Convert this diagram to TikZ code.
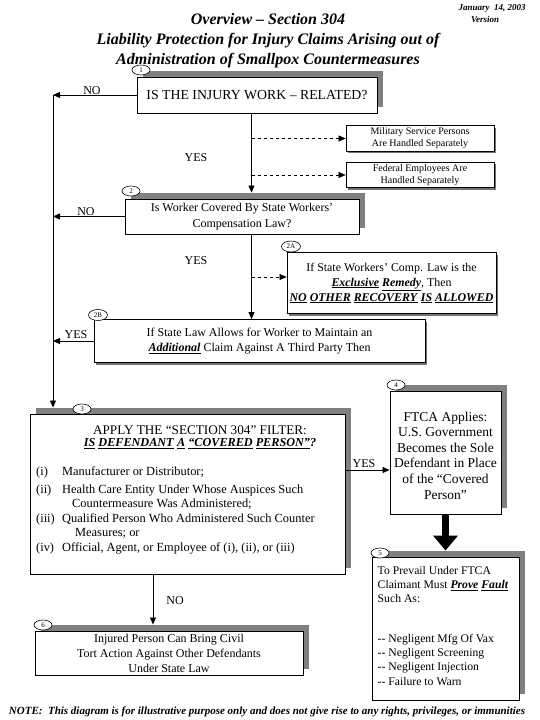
\documentclass[tikz,border=0pt]{standalone}
\usepackage{fontspec}
\setmainfont{Liberation Serif}
\usetikzlibrary{arrows.meta,shadows,shapes.geometric,calc}
\newcommand{\biu}[1]{\underline{\textbf{\textit{#1}}}}
\begin{document}
\begin{tikzpicture}[x=1pt,y=-1pt]
\tikzset{
  bigbox/.style={draw, fill=white, line width=0.9pt, inner sep=0pt,
    general shadow={shadow xshift=6pt, shadow yshift=6pt, fill=black!50}},
  sidebox/.style={draw, fill=white, line width=0.8pt, inner sep=0pt,
    general shadow={shadow xshift=2pt, shadow yshift=-2pt, fill=black!55}},
  badge/.style={ellipse, draw, fill=white, line width=0.6pt, inner sep=0pt,
    minimum width=18pt, minimum height=10pt, font=\fontsize{7}{7}\selectfont},
  arr/.style={-{Triangle[length=7pt,width=6pt]}, line width=0.8pt},
  dasharr/.style={arr, dashed, line width=0.6pt},
  lbl/.style={font=\fontsize{12}{12}\selectfont, inner sep=1pt},
  txt/.style={inner sep=0pt},
}
\useasboundingbox[fill=white] (0,0) rectangle (539,720);

% titles
\node[font=\fontsize{16}{20}\selectfont\bfseries\itshape, align=center] (title) at (268,40.5)
  {Overview – Section 304\\Liability Protection for Injury Claims Arising out of\\Administration of Smallpox Countermeasures};
\node[font=\fontsize{9}{12}\selectfont\bfseries\itshape, align=center] (date) at (492,14)
  {January~ 14, 2003\\Version\hspace*{14pt}};
\node[font=\fontsize{11}{12}\selectfont\bfseries\itshape] (note) at (267,712)
  {NOTE:~ This diagram is for illustrative purpose only and does not give rise to any rights, privileges, or immunities};

% column coordinates
\coordinate (X) at (251.5,0);
\coordinate (L) at (53,0);
\coordinate (X6) at (153,0);
\coordinate (Y34) at (0,470);

% boxes
\node[bigbox, minimum width=240pt, minimum height=36pt, font=\fontsize{13.8}{15}\selectfont] (b1) at (257,95)
  {IS THE INJURY WORK – RELATED?};
\node[sidebox, minimum width=148pt, minimum height=25.5pt, font=\fontsize{10}{12}\selectfont, align=center] (mil) at (420,138.5)
  {Military Service Persons\\Are Handled Separately};
\node[sidebox, minimum width=148pt, minimum height=25.5pt, font=\fontsize{10}{12}\selectfont, align=center] (fed) at (420,175)
  {Federal Employees Are\\Handled Separately};
\node[bigbox, minimum width=234pt, minimum height=35pt, font=\fontsize{12}{16}\selectfont, align=center] (b2) at (242,216.5)
  {Is Worker Covered By State Workers’\\Compensation Law?};
\node[sidebox, minimum width=209pt, minimum height=61pt, font=\fontsize{11.9}{15}\selectfont, align=center] (b2a) at (391.5,283)
  {If State Workers’ Comp. Law is the\\\biu{Exclusive} \biu{Remedy}, Then\\\biu{NO} \biu{OTHER} \biu{RECOVERY} \biu{IS} \biu{ALLOWED}};
\node[sidebox, minimum width=331pt, minimum height=43pt, font=\fontsize{12}{15}\selectfont, align=center] (b2b) at (259.5,341)
  {If State Law Allows for Worker to Maintain an\\\biu{Additional} Claim Against A Third Party Then};
\node[bigbox, minimum width=315pt, minimum height=160pt] (b3) at (187.5,494) {};
\node[txt, align=center] (b3t) at (200,437.5)
  {\fontsize{13.2}{15}\selectfont APPLY THE “SECTION 304” FILTER:\\\fontsize{12.2}{15}\selectfont\biu{IS} \biu{DEFENDANT} \biu{A} \biu{“COVERED} \biu{PERSON”}\textbf{\textit{?}}};
\node[anchor=north west, inner sep=0pt, font=\fontsize{12.4}{14.6}\selectfont] (b3l) at (36,465)
  {\begin{tabular}{@{}p{26pt}@{}l@{}}
  (i) & Manufacturer or Distributor;\\[3pt]
  (ii) & Health Care Entity Under Whose Auspices Such\\
       & \hspace{10pt}Countermeasure Was Administered;\\
  (iii) & Qualified Person Who Administered Such Counter\\
        & \hspace{13pt}Measures; or\\
  (iv) & Official, Agent, or Employee of (i), (ii), or (iii)
  \end{tabular}};
\node[bigbox, minimum width=111pt, minimum height=123pt] (b4) at (445.5,452.5) {};
\node[txt, font=\fontsize{13.5}{15.6}\selectfont, align=center] (b4t) at (445.5,455.5)
  {FTCA Applies:\\U.S. Government\\Becomes the Sole\\Defendant in Place\\of the “Covered\\Person”};
\node[bigbox, minimum width=147pt, minimum height=143pt] (b5) at (445.5,628.5) {};
\node[txt, anchor=north west, font=\fontsize{11.7}{14.3}\selectfont, align=left] (b5t) at (377.5,566)
  {To Prevail Under FTCA\\Claimant Must \biu{Prove} \biu{Fault}\\Such As:\\[25pt]-{}- Negligent Mfg Of Vax\\-{}- Negligent Screening\\-{}- Negligent Injection\\-{}- Failure to Warn};
\node[bigbox, minimum width=268pt, minimum height=44pt, font=\fontsize{12}{15}\selectfont, align=center] (b6) at (169,653)
  {Injured Person Can Bring Civil\\Tort Action Against Other Defendants\\Under State Law};

% badges
\node[badge] (n1) at (141,70) {1};
\node[badge] (n2) at (131,191) {2};
\node[badge, minimum width=19pt, minimum height=11pt] (n2a) at (291,246.5) {2A};
\node[badge, minimum width=19pt, minimum height=11pt] (n2b) at (98,315) {2B};
\node[badge] (n3) at (82,409) {3};
\node[badge] (n4) at (396,385) {4};
\node[badge] (n5) at (380,553) {5};
\node[badge] (n6) at (43,625) {6};

% helper coordinates
\coordinate (L1) at (b1.west -| L);
\coordinate (b2top) at ([yshift=6pt]b2.north);
\coordinate (b3top) at ([yshift=6pt]b3.north);
\coordinate (b5top) at ([yshift=6pt]b5.north);
\coordinate (b6top) at ([yshift=6pt]b6.north);
\coordinate (a2in) at ([yshift=6pt]b2a.west);

% connectors
\draw[arr] (b1.west) -- (L1);
\draw[arr] (L1) -- (b3top -| L);
\draw[arr] (b2.west) -- (b2.west -| L);
\draw[arr] (b2b.west) -- (b2b.west -| L);
\draw[arr] (b1.south -| X) -- (b2top -| X);
\draw[arr] (b2.south -| X) -- (b2b.north -| X);
\draw[dasharr] (mil.west -| X) -- (mil.west);
\draw[dasharr] (fed.west -| X) -- (fed.west);
\draw[dasharr] (a2in -| X) -- (a2in);
\draw[arr] (b3.east |- Y34) -- (b4.west |- Y34);
\draw[line width=7pt, -{Triangle[length=15pt,width=24pt]}] (b4.south) -- (b5top);
\draw[arr] (b3.south -| X6) -- (b6top -| X6);

% labels
\node[lbl] (no1) at (92,91) {NO};
\node[lbl] (yes1) at (196,158) {YES};
\node[lbl] (no2) at (86,212) {NO};
\node[lbl] (yes2) at (196,261) {YES};
\node[lbl] (yes3) at (76,335) {YES};
\node[lbl] (yes4) at (364,464) {YES};
\node[lbl] (no3) at (175,601) {NO};
\end{tikzpicture}
\end{document}
